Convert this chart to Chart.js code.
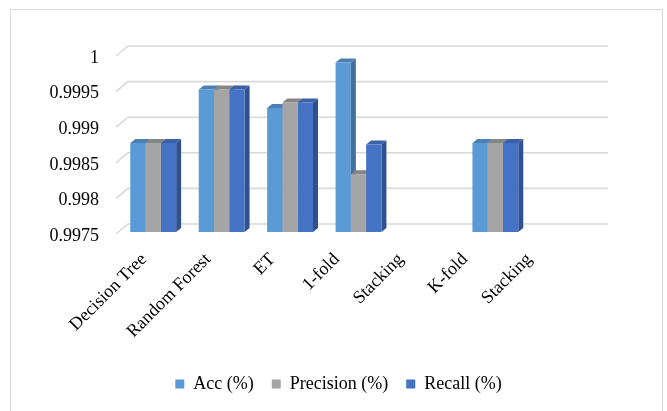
<!DOCTYPE html>
<html>
<head>
<meta charset="utf-8">
<script src="https://cdn.jsdelivr.net/npm/chart.js@4/dist/chart.umd.min.js"></script>
<style>
  body { margin: 0; background: #fff; overflow: hidden; }
  #wrap { position: relative; width: 667px; height: 411px; overflow: hidden; }
  #frame { position: absolute; left: 10px; top: 9px; width: 651px; height: 420px; border: 1px solid #d9d9d9; }
  canvas { position: absolute; left: 0; top: 0; }
</style>
</head>
<body>
<div id="wrap">
  <div id="frame"></div>
  <canvas id="chart" width="667" height="411"></canvas>
</div>
<script>
const categories = ['Decision Tree', 'Random Forest', 'ET', '1-fold', 'Stacking', 'K-fold', 'Stacking'];
const accValues = [0.99875, 0.9995, 0.99924, 0.99988, null, 0.99875, null];
const precisionValues = [0.99875, 0.9995, 0.99932, 0.99831, null, 0.99875, null];
const recallValues = [0.99875, 0.9995, 0.99932, 0.99873, null, 0.99875, null];
const yTicks = [0.9975, 0.998, 0.9985, 0.999, 0.9995, 1];
const yMin = 0.9975;

const serif = "'Liberation Serif', 'Times New Roman', serif";

// depth of the fake 3d bars (right / up)
const DX = 5, DY = -4;

// back wall grid, floor slants and the top/side faces of each bar
const bar3d = {
  id: 'bar3d',
  beforeDatasetsDraw(chart) {
    const { ctx, chartArea } = chart;
    const yScale = chart.scales.y;
    ctx.save();
    ctx.strokeStyle = '#d9d9d9';
    ctx.lineWidth = 1.6;
    yScale.ticks.forEach(t => {
      const py = yScale.getPixelForValue(t.value);
      ctx.beginPath();
      ctx.moveTo(chartArea.left - 3, py + 2);
      ctx.lineTo(chartArea.left + 9, py - 8);
      ctx.lineTo(chartArea.right + 10, py - 8);
      ctx.stroke();
    });

    chart.data.datasets.forEach((ds, di) => {
      const meta = chart.getDatasetMeta(di);
      meta.data.forEach((bar, i) => {
        if (ds.data[i] == null) return;
        const { x, y, base, width } = bar.getProps(['x', 'y', 'base', 'width'], true);
        const l = x - width / 2, r = x + width / 2;
        // side
        ctx.fillStyle = ds.sideColor;
        ctx.beginPath();
        ctx.moveTo(r, y);
        ctx.lineTo(r + DX, y + DY);
        ctx.lineTo(r + DX, base + DY);
        ctx.lineTo(r, base);
        ctx.closePath();
        ctx.fill();
        // top
        ctx.fillStyle = ds.topColor;
        ctx.beginPath();
        ctx.moveTo(l, y);
        ctx.lineTo(l + DX, y + DY);
        ctx.lineTo(r + DX, y + DY);
        ctx.lineTo(r, y);
        ctx.closePath();
        ctx.fill();
      });
    });
    ctx.restore();
  }
};

new Chart(document.getElementById('chart'), {
  type: 'bar',
  data: {
    labels: categories,
    datasets: [
      { label: 'Acc (%)', data: accValues, backgroundColor: '#5b9bd5', topColor: '#4a80b4', sideColor: '#41719c' },
      { label: 'Precision (%)', data: precisionValues, backgroundColor: '#a5a5a5', topColor: '#858585', sideColor: '#7b7b7b' },
      { label: 'Recall (%)', data: recallValues, backgroundColor: '#4472c4', topColor: '#3a61a8', sideColor: '#2f528f' }
    ]
  },
  plugins: [bar3d],
  options: {
    responsive: false,
    animation: false,
    datasets: {
      bar: { base: yMin, barPercentage: 1, categoryPercentage: 0.67, borderWidth: 0 }
    },
    layout: { padding: { left: 10, right: 0, top: 54, bottom: 8 } },
    scales: {
      x: { display: false },
      // label axis: the floor labels sit a little tighter than the bars
      xl: {
        type: 'linear',
        position: 'bottom',
        offset: false,
        min: -0.39,
        max: 7.07,
        grid: { display: false },
        border: { display: false },
        afterBuildTicks: scale => { scale.ticks = categories.map((c, i) => ({ value: i })); },
        afterFit: scale => { scale.height = 125; },
        ticks: {
          autoSkip: false,
          minRotation: 45,
          maxRotation: 45,
          padding: 9,
          color: '#000',
          font: { family: serif, size: 18 },
          callback: v => categories[v]
        }
      },
      y: {
        min: yMin,
        max: 1,
        grid: { display: false },
        border: { display: false },
        afterBuildTicks: scale => { scale.ticks = yTicks.map(v => ({ value: v })); },
        afterFit: scale => { scale.width = 109; },
        ticks: {
          padding: 12,
          labelOffset: 4,
          color: '#000',
          font: { family: serif, size: 18 },
          callback: v => String(+v.toFixed(4))
        }
      },
      // empty strip on the right, keeps the legend centred on the whole frame
      yRight: {
        position: 'right',
        grid: { display: false },
        border: { display: false },
        ticks: { display: false },
        afterFit: scale => { scale.width = 69; }
      }
    },
    plugins: {
      legend: {
        position: 'bottom',
        labels: {
          boxWidth: 9,
          boxHeight: 9,
          padding: 18,
          color: '#000',
          font: { family: serif, size: 18 }
        }
      },
      tooltip: { enabled: false }
    }
  }
});
</script>
</body>
</html>
